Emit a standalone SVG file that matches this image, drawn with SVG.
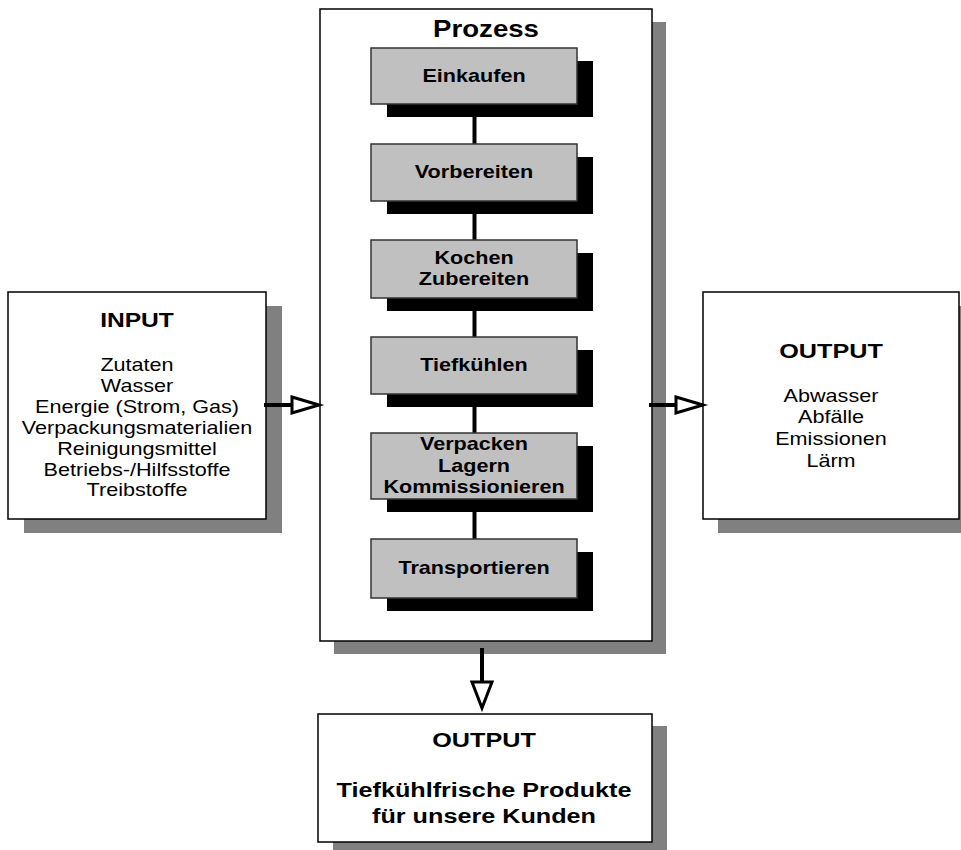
<svg xmlns="http://www.w3.org/2000/svg" width="961" height="850" viewBox="0 0 961 850">
<style>
.bg{fill:#ffffff}
.sh{fill:#808080}
.box{fill:#ffffff;stroke:#000000;stroke-width:1.5}
.step{fill:#c0c0c0;stroke:#333333;stroke-width:1.5}
.ssh{fill:#000000}
text{font-family:"Liberation Sans",Arial,sans-serif;fill:#000000;text-anchor:middle}
.b{font-weight:bold}
.conn{stroke:#000000;stroke-width:4;fill:none}
.head{fill:#ffffff;stroke:#000000;stroke-width:3;stroke-linejoin:miter}
</style>
<rect class="bg" x="0" y="0" width="961" height="850"/>

<g id="process">
<rect class="sh" x="334" y="22" width="332" height="632"/>
<rect class="box" x="320" y="9" width="332" height="632"/>
<text class="b" font-size="23" transform="matrix(1.2 0 0 1 486 0)" x="0" y="37">Prozess</text>
</g>

<g id="connectors">
<path class="conn" d="M474.5 104V144M474.5 201V240M474.5 298V337M474.5 394V433M474.5 499V539"/>
</g>

<g id="step-einkaufen">
<rect class="ssh" x="387" y="61" width="206" height="56"/>
<rect class="step" x="371" y="48" width="206" height="56"/>
<text class="b" font-size="18" transform="matrix(1.2 0 0 1 474 0)" x="0" y="82">Einkaufen</text>
</g>
<g id="step-vorbereiten">
<rect class="ssh" x="387" y="157" width="206" height="57"/>
<rect class="step" x="371" y="144" width="206" height="57"/>
<text class="b" font-size="18" transform="matrix(1.2 0 0 1 474 0)" x="0" y="178">Vorbereiten</text>
</g>
<g id="step-kochen">
<rect class="ssh" x="387" y="253" width="206" height="58"/>
<rect class="step" x="371" y="240" width="206" height="58"/>
<text class="b" font-size="18" transform="matrix(1.2 0 0 1 474 0)" x="0" y="264">Kochen</text>
<text class="b" font-size="18" transform="matrix(1.2 0 0 1 474 0)" x="0" y="285">Zubereiten</text>
</g>
<g id="step-tiefkuehlen">
<rect class="ssh" x="387" y="350" width="206" height="57"/>
<rect class="step" x="371" y="337" width="206" height="57"/>
<text class="b" font-size="18" transform="matrix(1.2 0 0 1 474 0)" x="0" y="371">Tiefkühlen</text>
</g>
<g id="step-verpacken">
<rect class="ssh" x="387" y="446" width="206" height="66"/>
<rect class="step" x="371" y="433" width="206" height="66"/>
<text class="b" font-size="18" transform="matrix(1.2 0 0 1 474 0)" x="0" y="450">Verpacken</text>
<text class="b" font-size="18" transform="matrix(1.2 0 0 1 474 0)" x="0" y="472">Lagern</text>
<text class="b" font-size="18" transform="matrix(1.2 0 0 1 474 0)" x="0" y="493">Kommissionieren</text>
</g>
<g id="step-transportieren">
<rect class="ssh" x="387" y="552" width="206" height="59"/>
<rect class="step" x="371" y="539" width="206" height="59"/>
<text class="b" font-size="18" transform="matrix(1.2 0 0 1 474 0)" x="0" y="574">Transportieren</text>
</g>

<g id="input">
<rect class="sh" x="24" y="306" width="258" height="227"/>
<rect class="box" x="8" y="292" width="258" height="227"/>
<text class="b" font-size="20.5" transform="matrix(1.2 0 0 1 137 0)" x="0" y="327">INPUT</text>
<g font-size="18" transform="matrix(1.2 0 0 1 137 0)">
<text x="0" y="371.5">Zutaten</text>
<text x="0" y="392.3">Wasser</text>
<text x="0" y="413.2">Energie (Strom, Gas)</text>
<text x="0" y="434">Verpackungsmaterialien</text>
<text x="0" y="454.9">Reinigungsmittel</text>
<text x="0" y="475.6">Betriebs-/Hilfsstoffe</text>
<text x="0" y="496.4">Treibstoffe</text>
</g>
</g>

<g id="output-emissions">
<rect class="sh" x="718" y="306" width="256" height="227"/>
<rect class="box" x="703" y="292" width="256" height="227"/>
<text class="b" font-size="21" transform="matrix(1.2 0 0 1 831 0)" x="0" y="358">OUTPUT</text>
<g font-size="18" transform="matrix(1.2 0 0 1 831 0)">
<text x="0" y="401.7">Abwasser</text>
<text x="0" y="423">Abfälle</text>
<text x="0" y="445.5">Emissionen</text>
<text x="0" y="467">Lärm</text>
</g>
</g>

<g id="output-products">
<rect class="sh" x="333" y="726" width="334" height="128"/>
<rect class="box" x="318" y="714" width="334" height="128"/>
<text class="b" font-size="21" transform="matrix(1.2 0 0 1 484 0)" x="0" y="747">OUTPUT</text>
<text class="b" font-size="21" transform="matrix(1.2 0 0 1 484 0)" x="0" y="797">Tiefkühlfrische Produkte</text>
<text class="b" font-size="21" transform="matrix(1.2 0 0 1 484 0)" x="0" y="823">für unsere Kunden</text>
</g>

<g id="arrows">
<path class="conn" d="M264 405H292"/>
<polygon class="head" points="292,397 319,405 292,413"/>
<path class="conn" d="M649 405H676"/>
<polygon class="head" points="676,397 703,405 676,413"/>
<path class="conn" d="M482 648V682"/>
<polygon class="head" points="472,682 492,682 482,708"/>
</g>
</svg>
